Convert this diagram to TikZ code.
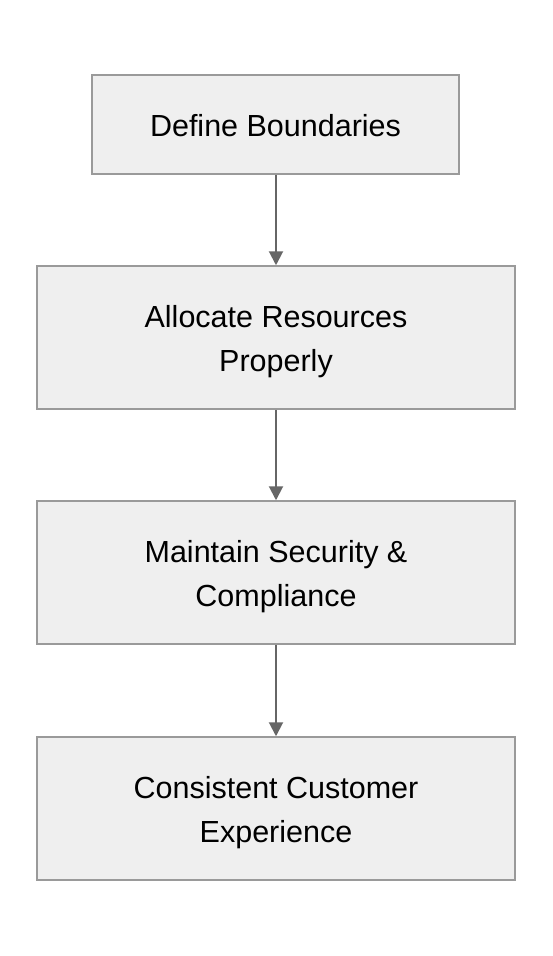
\documentclass[tikz,border=0pt]{standalone}
\usepackage{fontspec}
\setmainfont{Liberation Sans}
\usetikzlibrary{arrows.meta}
\newcommand\boxtext[1]{\raisebox{-3pt}[\height][\depth]{\begin{tabular}{@{}c@{}}#1\end{tabular}}}
\begin{document}
\begin{tikzpicture}[x=1pt,y=-1pt,
  box/.style={draw=boxborder,fill=boxfill,line width=1.5pt,minimum height=143pt,minimum width=478pt,inner sep=0pt,font=\fontsize{30.5}{44}\selectfont},
  conn/.style={draw=arrowgray,line width=2pt,-{Triangle[length=14pt,width=14pt]}}]
\definecolor{boxborder}{HTML}{9A9A9A}
\definecolor{boxfill}{HTML}{EFEFEF}
\definecolor{arrowgray}{HTML}{666666}
\useasboundingbox (0,0) rectangle (552,956);
\fill[white] (0,0) rectangle (552,956);
\node[box,minimum width=367pt,minimum height=99pt] (b1) at (275.5,124.5) {\boxtext{Define Boundaries}};
\node[box] (b2) at (276,337.5) {\boxtext{Allocate Resources\\Properly}};
\node[box] (b3) at (276,572.5) {\boxtext{Maintain Security \&\\Compliance}};
\node[box] (b4) at (276,808.5) {\boxtext{Consistent Customer\\Experience}};
\draw[conn] (b1.south -| 276,0) -- (b2.north -| 276,0);
\draw[conn] (b2) -- (b3);
\draw[conn] (b3) -- (b4);
\end{tikzpicture}
\end{document}
